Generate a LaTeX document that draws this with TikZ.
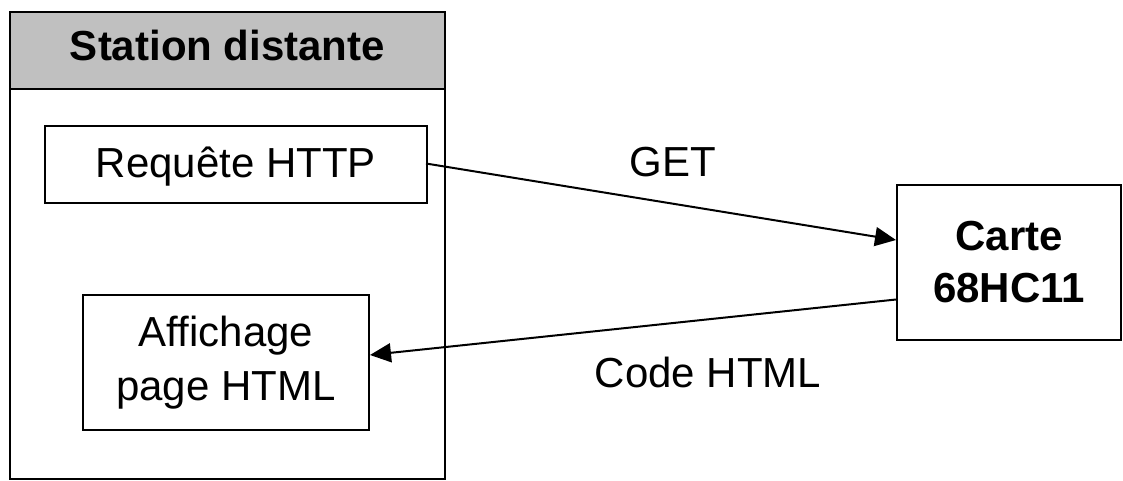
\documentclass[tikz,border=0pt]{standalone}
\usepackage{fontspec}
\setmainfont{Liberation Sans}
\usetikzlibrary{arrows.meta}
\definecolor{hdrgray}{RGB}{192,192,192}
\tikzset{
  box/.style={draw=black, line width=2pt, rectangle, inner sep=0pt, align=center,
    font=\fontsize{42}{54}\selectfont},
  lbl/.style={font=\fontsize{42}{54}\selectfont, inner sep=0pt, anchor=base},
  conn/.style={line width=2pt, -{Triangle[length=21pt,width=19pt]}}
}
\begin{document}
\begin{tikzpicture}[x=1pt,y=-1pt]
\useasboundingbox (0,0) rectangle (1123,480);
\node[box, minimum width=435pt, minimum height=467pt] (station) at (227.5,245.5) {};
\node[box, fill=hdrgray, minimum width=435pt, minimum height=77pt, text height=30pt, text depth=11pt, font=\fontsize{42}{54}\selectfont\bfseries] (header) at (227.5,50.5) {Station distante};
\node[box, minimum width=382pt, minimum height=77pt, text height=30pt, text depth=5pt] (requete) at (236,164.5) {Requête HTTP};
\node[box, minimum width=286pt, minimum height=135pt] (affichage) at (226,362.5) {Affichage\\page HTML};
\node[box, minimum width=224pt, minimum height=155pt, font=\fontsize{42}{52}\selectfont\bfseries] (carte) at (1009,262.5) {Carte\\68HC11};
\node[lbl] (get) at (673,176) {GET};
\node[lbl] (code) at (708,387) {Code HTML};
\draw[conn] ([xshift=-2pt,yshift=1pt]requete.east) -- ([yshift=22.5pt]carte.west);
\draw[conn] ([yshift=-37pt]carte.west) -- ([yshift=7.5pt]affichage.east);
\end{tikzpicture}
\end{document}
